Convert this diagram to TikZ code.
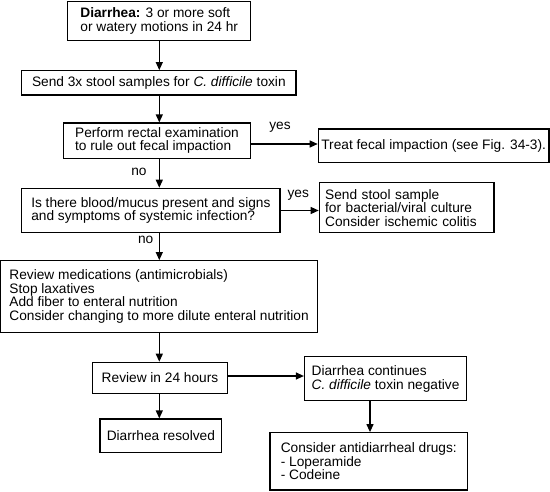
\documentclass[tikz,border=0pt]{standalone}
\usepackage{fontspec}
\setmainfont{Liberation Sans}
\usetikzlibrary{arrows.meta}
\begin{document}
\begin{tikzpicture}[x=1pt,y=-1pt,
 box/.style={draw, line width=1.2pt, align=left, inner sep=0pt, font=\fontsize{13.7}{13.6}\selectfont},
 arr/.style={line width=1.2pt, -{Triangle[length=8pt,width=7pt]}},
 lab/.style={font=\fontsize{13.7}{13.6}\selectfont, inner sep=0pt}]
\useasboundingbox (0,0) rectangle (550,491);
\coordinate (a1) at (159.3,0);
\coordinate (a3) at (370,0);
\coordinate (y1) at (0,144);
\coordinate (y3) at (0,376);

\node[box, minimum width=183pt, minimum height=39.5pt] (b1) at (159.2,21) {\textbf{Diarrhea:} 3 or more soft\\or watery motions in 24 hr};
\node[box, minimum width=274.3pt, minimum height=24.3pt] (b2) at (158.85,82.85) {Send 3x stool samples for \textit{C. difficile} toxin};
\node[box, minimum width=187.4pt, minimum height=35.3pt] (b3) at (157,140.65) {Perform rectal examination\\to rule out fecal impaction};
\node[box, minimum width=230.7pt, minimum height=33.3pt] (b4) at (433.65,145.65) {Treat fecal impaction (see Fig. 34-3).};
\node[box, minimum width=258.3pt, minimum height=44.4pt] (b5) at (150.85,210.5) {Is there blood/mucus present and signs\\and symptoms of systemic infection?};
\node[box, minimum width=174.7pt, minimum height=50pt, text width=163pt] (b6) at (406.65,207.7) {Send stool sample\\for bacterial/viral culture\\Consider ischemic colitis};
\node[box, minimum width=316.8pt, minimum height=71.6pt] (b7) at (159.1,296.5) {Review medications (antimicrobials)\\Stop laxatives\\Add fiber to enteral nutrition\\Consider changing to more dilute enteral nutrition};
\node[box, minimum width=134.6pt, minimum height=31pt] (b8) at (160,377.8) {Review in 24 hours};
\node[box, minimum width=162.1pt, minimum height=44pt] (b9) at (385.55,378.7) {Diarrhea continues\\\textit{C. difficile} toxin negative};
\node[box, minimum width=121.7pt, minimum height=33.3pt] (b10) at (160.85,435.65) {Diarrhea resolved};
\node[box, minimum width=197.6pt, minimum height=57.3pt] (b11) at (368.8,461.35) {Consider antidiarrheal drugs:\\- Loperamide\\- Codeine};

\draw[arr] (b1.south -| a1) -- (b2.north -| a1);
\draw[arr] (b2.south -| a1) -- (b3.north -| a1);
\draw[arr] (b3.south -| a1) -- (b5.north -| a1);
\draw[arr] (b5.south -| a1) -- (b7.north -| a1);
\draw[arr] (b7.south -| a1) -- (b8.north -| a1);
\draw[arr] (b8.south -| a1) -- (b10.north -| a1);
\draw[arr] (b3.east |- y1) -- (b4.west |- y1);
\draw[arr] (b5.east) -- (b6.west |- b5.east);
\draw[arr] (b8.east |- y3) -- (b9.west |- y3);
\draw[arr] (b9.south -| a3) -- (b11.north -| a3);

\node[lab] (yes1) at (280,127) {yes};
\node[lab] (no1) at (139,172) {no};
\node[lab] (yes2) at (298.3,195) {yes};
\node[lab] (no2) at (145.7,240) {no};
\end{tikzpicture}
\end{document}
